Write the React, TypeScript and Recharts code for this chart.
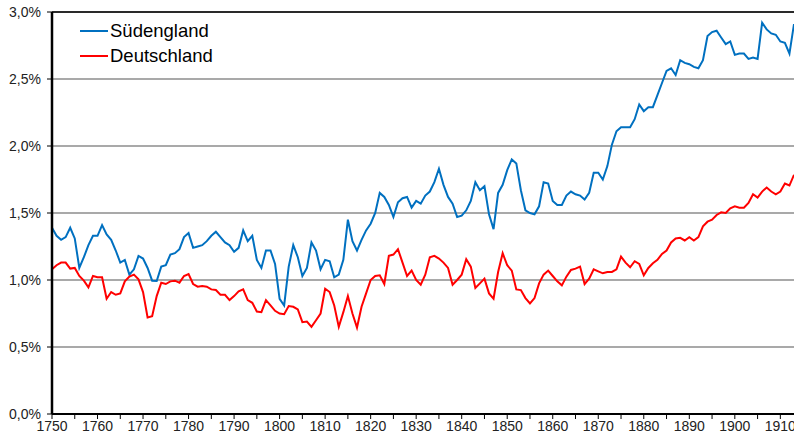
import React from "react";
import { LineChart, Line, XAxis, YAxis, CartesianGrid, ReferenceLine } from "recharts";

const FIRST_YEAR = 1750;
const LAST_YEAR = 1913;

const suedengland: number[] = [
  1.39, 1.33, 1.30, 1.32, 1.39, 1.31, 1.09, 1.17, 1.26, 1.33,
  1.33, 1.41, 1.34, 1.30, 1.22, 1.13, 1.15, 1.04, 1.08, 1.18,
  1.16, 1.09, 0.995, 0.993, 1.10, 1.11, 1.19, 1.20, 1.23, 1.32,
  1.35, 1.24, 1.25, 1.26, 1.29, 1.33, 1.36, 1.32, 1.28, 1.26,
  1.21, 1.24, 1.37, 1.29, 1.33, 1.15, 1.09, 1.22, 1.22, 1.12,
  0.86, 0.81, 1.10, 1.26, 1.17, 1.03, 1.09, 1.28, 1.22, 1.08,
  1.15, 1.14, 1.02, 1.04, 1.15, 1.45, 1.29, 1.22, 1.30, 1.37,
  1.42, 1.50, 1.65, 1.62, 1.56, 1.47, 1.58, 1.61, 1.62, 1.54,
  1.59, 1.57, 1.63, 1.66, 1.73, 1.83, 1.71, 1.62, 1.57, 1.47,
  1.48, 1.52, 1.59, 1.73, 1.67, 1.70, 1.49, 1.38, 1.65, 1.71,
  1.82, 1.90, 1.87, 1.67, 1.52, 1.50, 1.49, 1.55, 1.73, 1.72,
  1.59, 1.56, 1.56, 1.63, 1.66, 1.64, 1.63, 1.60, 1.65, 1.80,
  1.80, 1.75, 1.85, 2.01, 2.11, 2.14, 2.14, 2.14, 2.20, 2.31,
  2.26, 2.29, 2.29, 2.38, 2.47, 2.56, 2.58, 2.53, 2.64, 2.62,
  2.61, 2.59, 2.58, 2.64, 2.82, 2.85, 2.86, 2.81, 2.76, 2.78,
  2.68, 2.69, 2.69, 2.65, 2.66, 2.65, 2.92, 2.87, 2.84, 2.83,
  2.78, 2.77, 2.69, 2.91,
];

const deutschland: number[] = [
  1.08, 1.11, 1.13, 1.13, 1.085, 1.09, 1.03, 0.995, 0.945, 1.03,
  1.02, 1.02, 0.86, 0.91, 0.89, 0.90, 0.99, 1.025, 1.04, 1.005,
  0.91, 0.72, 0.73, 0.88, 0.98, 0.97, 0.99, 0.995, 0.98, 1.03,
  1.045, 0.97, 0.95, 0.955, 0.95, 0.93, 0.925, 0.89, 0.89, 0.85,
  0.88, 0.915, 0.93, 0.85, 0.83, 0.765, 0.76, 0.85, 0.81, 0.77,
  0.75, 0.745, 0.805, 0.80, 0.78, 0.685, 0.69, 0.65, 0.70, 0.75,
  0.935, 0.91, 0.81, 0.65, 0.76, 0.88, 0.75, 0.645, 0.80, 0.90,
  1.00, 1.03, 1.035, 0.97, 1.18, 1.19, 1.23, 1.13, 1.03, 1.07,
  1.00, 0.965, 1.04, 1.17, 1.18, 1.16, 1.13, 1.09, 0.965, 1.00,
  1.04, 1.155, 1.10, 0.94, 0.975, 1.01, 0.90, 0.86, 1.06, 1.20,
  1.11, 1.07, 0.93, 0.925, 0.865, 0.825, 0.865, 0.975, 1.04, 1.07,
  1.03, 0.99, 0.96, 1.025, 1.075, 1.085, 1.10, 0.97, 1.01, 1.08,
  1.065, 1.05, 1.06, 1.06, 1.08, 1.175, 1.13, 1.095, 1.14, 1.12,
  1.035, 1.09, 1.125, 1.15, 1.195, 1.22, 1.28, 1.31, 1.315, 1.295,
  1.32, 1.295, 1.32, 1.40, 1.435, 1.45, 1.485, 1.505, 1.50, 1.535,
  1.55, 1.54, 1.54, 1.575, 1.64, 1.615, 1.66, 1.69, 1.66, 1.64,
  1.66, 1.72, 1.705, 1.785,
];

const xTicks: number[] = [
  1750, 1755, 1760, 1765, 1770, 1775, 1780, 1785, 1790, 1795, 1800, 1805,
  1810, 1815, 1820, 1825, 1830, 1835, 1840, 1845, 1850, 1855, 1860, 1865,
  1870, 1875, 1880, 1885, 1890, 1895, 1900, 1905, 1910,
];
const yTicks: number[] = [0, 0.5, 1, 1.5, 2, 2.5, 3];

const seriesNames = { sued: "Südengland", de: "Deutschland" };
const colors = { sued: "#0070C0", de: "#FF0000" };

const data = suedengland.map((v, i) => ({
  year: FIRST_YEAR + i,
  sued: v,
  de: deutschland[i],
}));

const FONT = "'Liberation Sans', Arial, sans-serif";

const LegendBox = () => (
  <div
    style={{
      position: "absolute",
      left: 79,
      top: 18,
      fontFamily: FONT,
      fontSize: 18.5,
      color: "#000",
      lineHeight: "25px",
      pointerEvents: "none",
    }}
  >
    {(["sued", "de"] as const).map((k) => (
      <div key={k} style={{ display: "flex", alignItems: "center", height: 25 }}>
        <svg width={30} height={10} style={{ marginRight: 1 }}>
          <line x1={1} y1={5} x2={29} y2={5} stroke={colors[k]} strokeWidth={2} />
        </svg>
        <span>{seriesNames[k]}</span>
      </div>
    ))}
  </div>
);

export default function App() {
  return (
    <div style={{ position: "absolute", left: 0, top: 0, width: 794, height: 438, background: "#fff", overflow: "hidden" }}>
      <LineChart
        width={794}
        height={438}
        data={data}
        margin={{ top: 12, right: 0, left: 0, bottom: 0 }}
      >
        <CartesianGrid horizontal vertical={false} stroke="#8c8c8c" strokeWidth={1.3} />
        <ReferenceLine y={3} stroke="#000" strokeWidth={1.3} />
        <XAxis
          dataKey="year"
          type="number"
          domain={[FIRST_YEAR, LAST_YEAR]}
          ticks={xTicks}
          interval={0}
          height={24}
          tickSize={5}
          tickMargin={2}
          axisLine={{ stroke: "#000", strokeWidth: 2 }}
          tickLine={{ stroke: "#000", strokeWidth: 1 }}
          tick={{ fill: "#222", fontSize: 14, fontFamily: FONT }}
          tickFormatter={(v: number) => (v % 10 === 0 ? String(v) : "")}
        />
        <YAxis
          type="number"
          domain={[0, 3]}
          ticks={yTicks}
          interval={0}
          width={52}
          tickSize={5}
          tickMargin={6}
          axisLine={{ stroke: "#000", strokeWidth: 2.5 }}
          tickLine={{ stroke: "#000", strokeWidth: 1 }}
          tick={{ fill: "#222", fontSize: 14, fontFamily: FONT }}
          tickFormatter={(v: number) => v.toFixed(1).replace(".", ",") + "%"}
        />
        <Line
          dataKey="sued"
          name={seriesNames.sued}
          stroke={colors.sued}
          strokeWidth={2}
          dot={false}
          type="linear"
          isAnimationActive={false}
        />
        <Line
          dataKey="de"
          name={seriesNames.de}
          stroke={colors.de}
          strokeWidth={2}
          dot={false}
          type="linear"
          isAnimationActive={false}
        />
      </LineChart>
      <LegendBox />
    </div>
  );
}
